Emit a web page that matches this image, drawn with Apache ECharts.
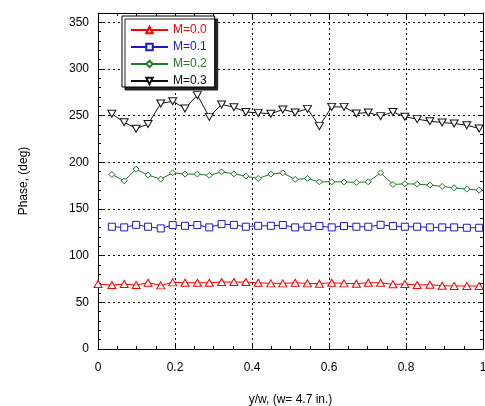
<!DOCTYPE html>
<html>
<head>
<meta charset="utf-8">
<script src="https://cdn.jsdelivr.net/npm/echarts@6/dist/echarts.min.js"></script>
<style>html,body{margin:0;padding:0;background:#fff;}#c{width:485px;height:406px;}</style>
</head>
<body>
<div id="c"></div>
<script>
var xs = [0.0, 0.036, 0.068, 0.099, 0.130, 0.163, 0.194, 0.226, 0.258, 0.289, 0.321, 0.353, 0.384, 0.416, 0.449, 0.480,
          0.512, 0.544, 0.575, 0.607, 0.639, 0.671, 0.702, 0.734, 0.766, 0.797, 0.829, 0.862, 0.894, 0.925, 0.958, 0.990];
var m00 = [69.6, 68.5, 69.6, 68.5, 71, 68.2, 71.4, 71, 71, 71, 71.7, 71.7, 71.7, 71, 70.3, 70.3,
           71, 70.3, 70, 71, 70.3, 70, 71, 71, 69.3, 69.6, 68.5, 68.9, 67.8, 67.5, 67.5, 67.5];
var m01 = [131, 130.3, 133, 131, 129.2, 132.8, 132, 132.8, 130.3, 133.8, 133, 131, 132, 132, 132.8,
           130.3, 131, 131.7, 130.3, 131.7, 131, 131, 133, 131.7, 131, 131, 130.3, 130.3, 130.3, 129.9, 129.9];
var m02 = [187, 180.2, 192.7, 186.3, 182, 188.8, 187.4, 187.4, 186, 189.8, 187.7, 185.2, 182.7, 187.4, 188.8,
           181.7, 182.7, 179.1, 179.1, 179, 178.4, 179.1, 188.8, 176.3, 177, 176.7, 175.6, 174.2, 172.7, 171.3, 170.2];
var m03 = [252, 243, 236, 241, 263, 265.5, 257.7, 272, 248.7, 262, 259, 254, 253, 252, 256.6,
           253.4, 257.3, 238.8, 259.4, 259.4, 252.3, 253.4, 249.5, 254, 248.8, 246.3, 244, 242.7, 241.6, 239.8, 236.3];
var names = ['M=0.0', 'M=0.1', 'M=0.2', 'M=0.3'];
var colors = ['#ff0000', '#1a1acc', '#1e7a2a', '#111111'];
var xTicks = [0, 0.2, 0.4, 0.6, 0.8, 1];
var yTicks = [0, 50, 100, 150, 200, 250, 300, 350];

function pairs(vals, offset) {
  return vals.map(function (v, i) { return [xs[i + offset], v]; });
}
var FONT = 'Liberation Sans';
var chart = echarts.init(document.getElementById('c'));
var gridLine = { show: true, lineStyle: { color: '#000', type: [2, 3], width: 1 } };
function mkX(pos, main) {
  return {
    type: 'value', position: pos, min: 0, max: 1, interval: 0.2,
    name: main ? 'y/w, (w= 4.7 in.)' : '', nameLocation: 'middle', nameGap: 45,
    nameTextStyle: { fontFamily: FONT, fontSize: 12, color: '#000' },
    axisLine: { show: true, onZero: false, lineStyle: { color: '#000', width: 1 } },
    axisTick: { show: true, inside: true, length: 5, lineStyle: { color: '#000' } },
    minorTick: { show: true, splitNumber: 4, length: 3, lineStyle: { color: '#000' } },
    axisLabel: { show: main, margin: 13, fontFamily: FONT, fontSize: 12, color: '#000',
      formatter: function (v) { return xTicks.indexOf(v) >= 0 ? String(v) : ''; } },
    splitLine: main ? gridLine : { show: false }
  };
}
function mkY(pos, main) {
  return {
    type: 'value', position: pos, min: 0, max: 360, interval: 50,
    name: main ? 'Phase, (deg)' : '', nameLocation: 'middle', nameGap: 68, nameRotate: 90,
    nameTextStyle: { fontFamily: FONT, fontSize: 12, color: '#000' },
    axisLine: { show: true, onZero: false, lineStyle: { color: '#000', width: 1 } },
    axisTick: { show: true, inside: true, length: 5, lineStyle: { color: '#000' } },
    minorTick: { show: true, splitNumber: 5, length: 3, lineStyle: { color: '#000' } },
    axisLabel: { show: main, margin: 9, fontFamily: FONT, fontSize: 12, color: '#000', showMaxLabel: false,
      formatter: function (v) { return yTicks.indexOf(v) >= 0 ? String(v) : ''; } },
    splitLine: main ? gridLine : { show: false }
  };
}
var symbols = ['triangle', 'rect', 'diamond', 'triangle'];
var sizes = [[8, 7], 7, 6, [8, 7]];
var rots = [0, 0, 0, 180];
var datas = [pairs(m00, 0), pairs(m01, 1), pairs(m02, 1), pairs(m03, 1)];
var series = names.map(function (n, k) {
  return {
    name: n, type: 'line', xAxisIndex: 0, yAxisIndex: 0,
    data: datas[k], symbol: symbols[k], symbolSize: sizes[k], symbolRotate: rots[k],
    showAllSymbol: true, animation: false, z: 5 + k,
    lineStyle: { color: colors[k], width: 1 },
    itemStyle: { color: '#fff', borderColor: colors[k], borderWidth: 1 }
  };
});
chart.setOption({
  animation: false,
  backgroundColor: '#fff',
  grid: { left: 98, right: 2, top: 13, bottom: 57, containLabel: false, outerBoundsMode: 'none' },
  xAxis: [mkX('bottom', true), mkX('top', false)],
  yAxis: [mkY('left', true), mkY('right', false)],
  legend: {
    orient: 'vertical', left: 122, top: 16,
    padding: [8, 8, 0, 8], itemGap: 5, itemWidth: 37, itemHeight: 8,
    backgroundColor: '#fff', borderColor: '#000', borderWidth: 1,
    shadowColor: '#222', shadowOffsetX: 3, shadowOffsetY: 3, shadowBlur: 0,
    data: names.map(function (n, k) {
      return { name: n, textStyle: { color: colors[k], fontFamily: FONT, fontSize: 12, lineHeight: 12 } };
    }),
    selectedMode: false
  },
  series: series
});
</script>
</body>
</html>
